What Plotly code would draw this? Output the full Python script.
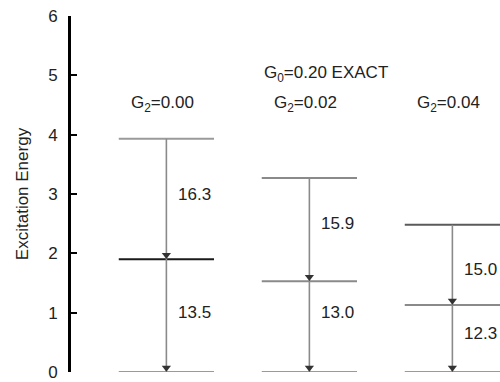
import plotly.graph_objects as go

# Level scheme for three pairing strengths at G0 = 0.20 (exact solution)
couplings = ["0.00", "0.02", "0.04"]
upper_level = [3.93, 3.27, 2.48]
lower_level = [1.90, 1.53, 1.13]
ground_level = [0.0, 0.0, 0.0]
upper_transition = [16.3, 15.9, 15.0]
lower_transition = [13.5, 13.0, 12.3]
y_ticks = [0, 1, 2, 3, 4, 5, 6]

# Styling
FONT = "Liberation Sans, Arial, sans-serif"
TEXT = "#222222"
HALF_WIDTH = 0.333
upper_colors = ["#9a9a9a", "#8a8a8a", "#5a5a5a"]
lower_colors = ["#1a1a1a", "#8a8a8a", "#8a8a8a"]
ground_color = "#9a9a9a"
STEM = "#8a8a8a"
HEAD = "#333333"
HEAD_LIFT = 0.07           # raise the head so its tip touches the level
# where the transition values sit, in energy units
upper_label_y = [3.0, 2.5, 1.73]
lower_label_y = [1.0, 1.0, 0.65]

fig = go.Figure()
annotations = []

for i, g in enumerate(couplings):
    xc = i
    # energy levels
    for level, color in ((upper_level[i], upper_colors[i]),
                         (lower_level[i], lower_colors[i]),
                         (ground_level[i], ground_color)):
        fig.add_trace(go.Scatter(
            x=[xc - HALF_WIDTH, xc + HALF_WIDTH], y=[level, level],
            mode="lines", line=dict(color=color, width=2),
            hoverinfo="skip", showlegend=False, cliponaxis=False))
    # transition stems
    fig.add_trace(go.Scatter(
        x=[xc, xc], y=[upper_level[i], ground_level[i]],
        mode="lines", line=dict(color=STEM, width=1.6),
        hoverinfo="skip", showlegend=False, cliponaxis=False))
    # arrow heads at the lower end of each transition
    fig.add_trace(go.Scatter(
        x=[xc, xc], y=[lower_level[i] + HEAD_LIFT, ground_level[i] + HEAD_LIFT],
        mode="markers",
        marker=dict(symbol="triangle-down", size=8, color=HEAD,
                    line=dict(width=0)),
        hoverinfo="skip", showlegend=False, cliponaxis=False))
    # transition values
    annotations.append(dict(
        x=xc, y=upper_label_y[i], xref="x", yref="y", xanchor="left",
        xshift=10, text=f"{upper_transition[i]:.1f}", showarrow=False,
        font=dict(family=FONT, size=17, color=TEXT)))
    annotations.append(dict(
        x=xc, y=lower_label_y[i], xref="x", yref="y", xanchor="left",
        xshift=10, text=f"{lower_transition[i]:.1f}", showarrow=False,
        font=dict(family=FONT, size=17, color=TEXT)))
    # coupling headers
    annotations.append(dict(
        x=xc, y=4.52, xref="x", yref="y", xshift=-4,
        text=f"G<sub>2</sub>={g}", showarrow=False,
        font=dict(family=FONT, size=17, color=TEXT)))

annotations.append(dict(
    x=1 - HALF_WIDTH, y=5.02, xref="x", yref="y", xanchor="left",
    text="G<sub>0</sub>=0.20 EXACT", showarrow=False,
    font=dict(family=FONT, size=17, color=TEXT)))

fig.update_layout(
    width=500, height=382,
    margin=dict(l=71, r=0, t=16, b=6),
    paper_bgcolor="white", plot_bgcolor="white",
    font=dict(family=FONT, size=16, color=TEXT),
    annotations=annotations,
    xaxis=dict(range=[-0.667, 2.333], visible=False, showgrid=False,
               zeroline=False),
    yaxis=dict(range=[0, 6], tickvals=y_ticks, showgrid=False,
               zeroline=False, showline=True, linecolor="black",
               linewidth=2.8, ticks="inside", ticklen=6, tickwidth=2.2,
               tickcolor="black", ticklabelstandoff=7,
               ticklabeloverflow="allow",
               tickfont=dict(family=FONT, size=17, color=TEXT),
               title=dict(text="Excitation Energy", standoff=16,
                          font=dict(family=FONT, size=17, color=TEXT))),
)

fig.write_html("out.html")
